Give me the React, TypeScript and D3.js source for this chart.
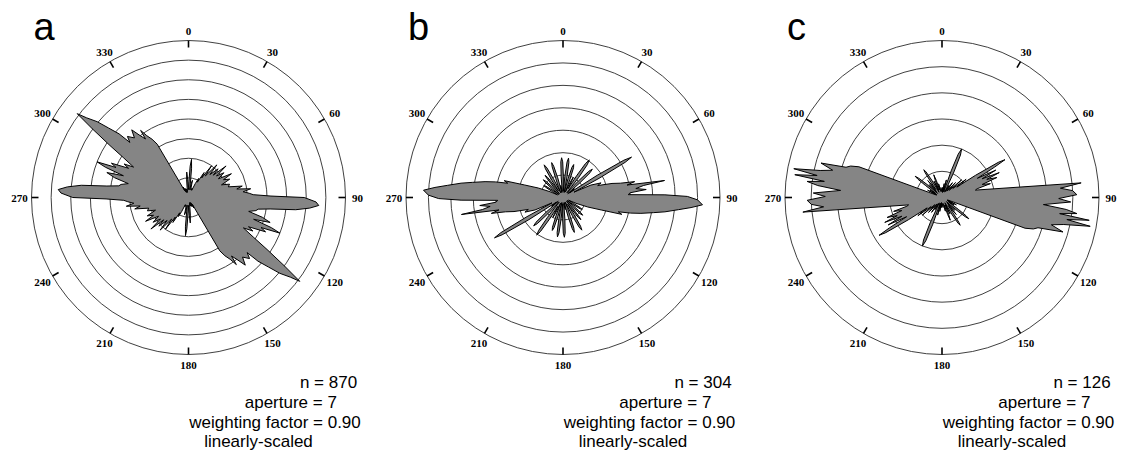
import React from 'react';
import * as d3 from 'd3';

// Rose values: [azimuth in degrees, moving-average count].
// Orientation data are axial, so each half-rose (0–180°) is repeated at +180°.
type RosePoint = [number, number];

const roseA: RosePoint[] = [
  [0, 10], [1.5, 16], [3, 32], [4.5, 39], [6, 30], [7.5, 14], [9, 8], [11, 14], [13, 18], [15, 10],
  [18, 8], [21, 10], [24, 8], [26, 16], [28, 22], [30, 18], [32, 30], [34, 24], [36, 40], [38, 28],
  [41, 44], [43, 32], [46, 42], [48, 34], [50, 50], [52.5, 36], [55, 44], [58, 36], [61, 50], [63, 40],
  [66, 46], [69, 36], [72, 44], [75, 42], [78, 56], [80, 50], [82, 64], [84, 56], [86, 62], [87.5, 66],
  [89, 84], [90, 118], [92, 130], [93.5, 133], [95, 124], [96.5, 110], [98, 84], [99.5, 72], [101, 70], [103, 63],
  [105, 78], [107, 87], [108.5, 70], [110, 90], [111.3, 100], [112.5, 80], [114, 86], [116, 68], [117.5, 74], [119, 64],
  [121.5, 78], [123.5, 96], [125.5, 120], [127, 142], [128, 132], [129.7, 121], [131, 108], [132.5, 96], [133.2, 82], [135, 88],
  [137.8, 82], [140, 90], [142, 80], [143.7, 74], [144.5, 84], [146, 76], [148, 70], [149.6, 63], [150.5, 8], [153, 12],
  [156, 6], [159, 10], [163, 5], [167, 9], [170, 6], [172, 10], [174, 18], [176, 26], [177.5, 18], [179, 8],
];

const roseB: RosePoint[] = [
  [1, 21], [3, 6], [5, 21], [6.5, 35], [8, 39], [9.5, 35], [11, 21], [13, 5], [15, 19], [16.5, 31],
  [18, 34], [19.5, 31], [21, 19], [23, 6], [24.5, 12], [26, 20], [27, 22], [28, 18], [30, 10], [32, 25],
  [33.5, 40], [35, 45], [36.5, 40], [38, 25], [40, 6], [43, 22], [44.5, 36], [46, 40], [47.5, 36], [49, 22],
  [51, 6], [53, 14], [55, 8], [57, 40], [58.5, 70], [59.5, 78], [60.5, 70], [62, 40], [64, 12], [66, 30],
  [69, 40], [71, 36], [74, 50], [76, 58], [77.5, 72], [79, 64], [80.5, 101], [81.5, 80], [83, 72], [84.5, 82],
  [86, 66], [87.5, 64], [88.5, 100], [89.5, 122], [91, 132], [93, 137], [94.5, 126], [96, 114], [98, 101], [99.5, 90],
  [101.5, 78], [103, 68], [104.5, 56], [106, 60], [108, 40], [111, 26], [114, 14], [116, 6], [119, 12], [120.5, 20],
  [122, 22], [123.5, 20], [125, 12], [127, 5], [129, 14], [130.5, 23], [132, 26], [133.5, 23], [135, 14], [137, 5],
  [138.5, 15], [140, 25], [141, 28], [142.5, 25], [144, 12], [145.5, 8], [147, 20], [148.5, 33], [150, 37], [151.5, 33],
  [153, 20], [155, 5], [157, 12], [159, 20], [160.5, 32], [162, 36], [163.5, 32], [165, 20], [167, 5], [169, 12],
  [171, 8], [173, 6], [175, 21], [176.5, 35], [178, 39], [179.5, 35],
];

const roseC: RosePoint[] = [
  [0, 6], [3, 10], [6, 5], [9, 14], [11, 6], [14, 18], [16, 8], [17.5, 6], [19, 28], [20.5, 46],
  [22, 52], [23.5, 46], [25, 28], [27, 6], [30, 14], [32, 8], [35, 18], [38, 8], [42, 20], [45, 10],
  [48, 26], [50, 14], [53, 30], [55, 18], [56.5, 40], [58, 66], [59, 73], [60, 60], [61.5, 40], [63, 60],
  [65, 44], [66.5, 62], [68, 48], [70, 58], [72, 42], [74, 50], [76, 36], [77.5, 34], [84, 139], [85.5, 118],
  [87, 130], [88.8, 134], [90.5, 116], [92, 128], [94, 101], [95.5, 124], [96.8, 135], [97.8, 118], [98.8, 148], [100, 126],
  [101, 150], [102.5, 124], [104, 112], [105.9, 125], [107.5, 100], [109, 96], [110.3, 88], [111.3, 14], [114, 6], [117, 16],
  [119, 6], [122, 14], [124, 8], [126, 20], [127.2, 30], [128.4, 34], [129.6, 30], [131, 20], [133, 6], [135, 18],
  [137, 8], [140, 22], [142, 10], [144.5, 20], [145.8, 30], [146.8, 33], [148, 30], [149.5, 20], [151, 6], [154, 18],
  [156, 8], [158.5, 18], [160, 24], [161.5, 18], [163, 8], [166, 14], [170, 6], [174, 10], [178, 6],
];

const panelLetters = ['a', 'b', 'c'];
const sampleSizes = [870, 304, 126];
const apertures = [7, 7, 7];
const weightingFactors = ['0.90', '0.90', '0.90'];
const scaleNote = 'linearly-scaled';
const ringCounts = [8, 7, 6];
const ringSteps = [20, 22, 26];
const roses = [roseA, roseB, roseC];
const tickAngles = d3.range(0, 360, 30);

const WIDTH = 1122;
const HEIGHT = 455;
const CENTERS_X = [188.5, 563, 942];
const CENTER_Y = 197.5;
const OUTER_R = 157;
const FILL = '#858585';

const rad = (deg: number) => (deg * Math.PI) / 180;

function RosePanel({ index }: { index: number }) {
  const cx = CENTERS_X[index];
  const half = roses[index];
  const full: RosePoint[] = half.concat(half.map(([a, v]) => [a + 180, v] as RosePoint));

  const rScale = d3
    .scaleLinear()
    .domain([0, ringCounts[index] * ringSteps[index]])
    .range([0, OUTER_R]);

  const rings = d3.range(1, ringCounts[index] + 1).map((k) => k * ringSteps[index]);

  const rosePath = d3
    .lineRadial<RosePoint>()
    .angle((d) => rad(d[0]))
    .radius((d) => rScale(d[1]))
    .curve(d3.curveLinearClosed)(full) as string;

  const notes = [
    { text: `n = ${sampleSizes[index]}`, dx: 140, y: 387.5 },
    { text: `aperture = ${apertures[index]}`, dx: 102.3, y: 407.5 },
    { text: `weighting factor = ${weightingFactors[index]}`, dx: 86.5, y: 427.5 },
    { text: scaleNote, dx: 70, y: 447 },
  ];

  return (
    <g>
      <text
        x={cx - 155}
        y={40}
        fontFamily="'Liberation Sans', Arial, sans-serif"
        fontSize={38}
        fill="#000"
      >
        {panelLetters[index]}
      </text>
      <g transform={`translate(${cx},${CENTER_Y})`}>
        {rings.map((v) => (
          <circle key={v} r={rScale(v)} fill="none" stroke="#2a2a2a" strokeWidth={0.9} />
        ))}
        {tickAngles.map((a) => {
          const s = Math.sin(rad(a));
          const c = Math.cos(rad(a));
          const lr = 167 + Math.abs(s) * 2;
          return (
            <g key={a}>
              <line
                x1={150 * s}
                y1={-150 * c}
                x2={OUTER_R * s}
                y2={-OUTER_R * c}
                stroke="#000"
                strokeWidth={1.6}
              />
              <text
                x={lr * s}
                y={-lr * c}
                textAnchor="middle"
                dominantBaseline="central"
                fontFamily="'Liberation Serif', 'Times New Roman', serif"
                fontWeight="bold"
                fontSize={11}
                fill="#000"
              >
                {a}
              </text>
            </g>
          );
        })}
        <path d={rosePath} fill={FILL} stroke="#000" strokeWidth={1} strokeLinejoin="miter" />
      </g>
      {notes.map((n) => (
        <text
          key={n.text}
          x={cx + n.dx}
          y={n.y}
          textAnchor="middle"
          fontFamily="'Liberation Sans', Arial, sans-serif"
          fontSize={17}
          fill="#000"
        >
          {n.text}
        </text>
      ))}
    </g>
  );
}

export default function App() {
  return (
    <svg
      width={WIDTH}
      height={HEIGHT}
      viewBox={`0 0 ${WIDTH} ${HEIGHT}`}
      style={{ position: 'absolute', left: 0, top: 0, background: '#fff' }}
    >
      <rect width={WIDTH} height={HEIGHT} fill="#fff" />
      {[0, 1, 2].map((i) => (
        <RosePanel key={i} index={i} />
      ))}
    </svg>
  );
}
